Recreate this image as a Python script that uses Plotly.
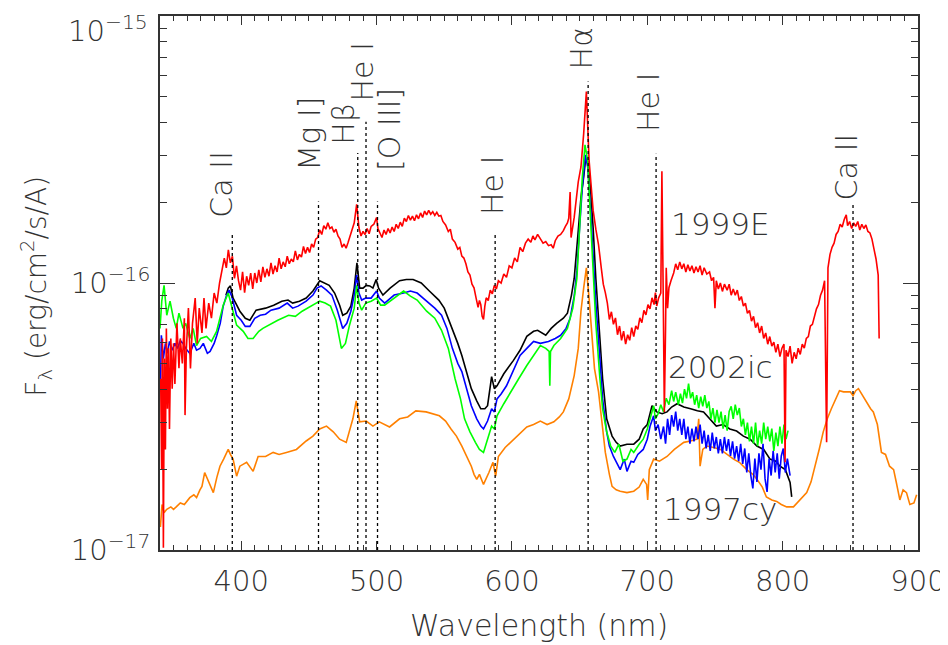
import math
import plotly.graph_objects as go

FLUX_UNIT = 1e-17  # all flux values below are in units of 1e-17 erg/cm2/s/A

# ---- SN 1999E (red): (wavelength nm, flux) pairs ----
spec_1999E = [
    (340.5, 4.38), (341.2, 2.00), (341.8, 6.2), (342.5, 1.02), (343.2, 5.21), (344, 2.38), (344.7, 6.76),
    (345.5, 3.38), (346.3, 5.69), (347, 2.84), (348, 6.2), (349, 4.02), (350, 5.94), (351, 4.19), (352.5, 7.06),
    (354, 4.80), (355, 6.2), (356.5, 5.0), (358, 7.38), (358.5, 3.2), (359.5, 5.69), (361, 8.05), (362.5, 4.78),
    (364, 7.06), (366, 8.78), (367.5, 5.94), (369, 8.05), (371, 6.5), (372.5, 8.78), (374, 6.76), (376, 8.41),
    (378, 7.38), (380, 9.17), (382, 8.41), (384, 10.0), (386, 11.4), (387.5, 12.4), (389, 11.4), (390.5, 13.3),
    (392, 11.9), (393.5, 12.6),
    (395, 10.4), (396.5, 11.6), (398, 10.2), (399.5, 9.4), (401, 11.0), (402.5, 9.2), (404, 10.6), (405.5, 9.8),
    (407, 10.9), (408.5, 9.5), (410, 10.9), (411.5, 10.0), (413, 11.2), (414.5, 10.1), (416, 11.5), (417.5, 10.5),
    (419, 11.3), (420.5, 10.6), (422, 11.9), (423.5, 10.8), (425, 11.6), (426.5, 11.0), (428, 12.4), (429.5, 11.3),
    (431, 12.0), (432.5, 11.5), (434, 12.6), (435.5, 11.8), (437, 12.3), (438.5, 12.0), (440, 13.2), (441.5, 12.2),
    (443, 12.8), (444.5, 12.5), (446, 13.7), (447.5, 12.9), (449, 13.6), (450.5, 13.0), (452, 14.0), (453.5, 13.6),
    (455, 14.6), (456.5, 14.8), (458, 15.8), (459.5, 15.2), (461, 16.4), (462.5, 15.9), (464, 16.8), (465.5, 16.0),
    (467, 16.2), (468.5, 15.5), (470, 15.9), (471.5, 15.0), (473, 14.6), (474.5, 13.6), (476, 14.0), (477.5, 13.5),
    (479, 14.2), (481, 15.2), (483.5, 16.8), (485.3, 19.7), (487, 16.1), (488.5, 15.0), (490, 15.6), (491.5, 15.2),
    (493, 16.0), (494.5, 15.3), (496, 16.3), (498, 16.6), (500, 17.6), (501, 16.0), (502.5, 15.4), (504, 14.8),
    (505.5, 15.8), (507, 15.2), (508.5, 16.0), (510, 15.4), (511.5, 16.2), (513, 15.6), (514.5, 16.6), (516, 16.0),
    (517.5, 16.9), (519, 16.3), (520.5, 17.5), (522, 17.0), (523.5, 17.9), (525, 17.2), (526.5, 17.8), (528, 17.1),
    (529.5, 18.0), (531, 17.4), (532.5, 18.3), (534, 17.6), (535.5, 18.6), (537, 18.0), (538.5, 18.7), (540, 18.1),
    (541.5, 18.5), (543, 17.9), (544.5, 18.4), (546, 17.8), (547.5, 17.9), (549, 17.0), (551, 16.5), (553, 15.6),
    (554.5, 15.9), (556, 14.6), (558, 14.2), (560, 13.4), (561.5, 13.6), (563, 12.6), (564.5, 12.4), (566, 11.8),
    (567.5, 11.0), (569, 10.7), (570.5, 9.9), (572, 9.6), (573.5, 8.8), (575, 8.1), (576, 8.6), (577, 8.3),
    (578, 7.5), (579, 7.3), (580, 8.2), (581, 8.8), (582.5, 8.6), (584, 9.4), (585.5, 9.1), (587, 9.8), (588.5, 9.5),
    (590, 10.2), (592, 10.0), (594, 10.8), (596, 10.5), (598, 11.6), (600, 11.4), (602, 12.4), (604, 12.0),
    (606, 13.6), (608, 13.1), (610, 14.1), (612, 14.6), (614, 14.2), (615.5, 15.0), (617, 14.5), (619, 15.2),
    (621, 14.6), (623, 14.1), (625, 14.3), (627, 13.8), (629, 13.9), (630.5, 13.5), (632, 14.4), (634, 15.0),
    (636, 15.2), (638, 15.7), (639.5, 16.3), (641, 16.8), (642, 17.5), (643, 21.9), (643.7, 14.8), (646, 17.6),
    (649, 23.9), (651, 27.2), (653, 36.2), (655, 52.1), (657, 28.9), (660, 18.7), (662, 15.9), (664, 13.9),
    (666, 11.4), (667.5, 9.9), (669, 9.2), (670.5, 8.4), (672, 7.3), (673.5, 7.8), (675, 7.0), (676.5, 7.4),
    (678, 6.4), (679.5, 6.9), (681, 6.1), (682.5, 6.6), (684, 5.9), (685.5, 6.4), (687, 6.1), (688.5, 6.8),
    (690, 6.3), (691.5, 6.9), (693, 6.7), (694.5, 7.4), (696, 7.1), (697.5, 7.9), (699, 7.6), (700.5, 8.3),
    (702, 8.0), (703.5, 8.8), (705, 8.3), (706, 9.2), (707, 8.2), (708.4, 8.8), (710, 9.17), (710.8, 26.2),
    (711.8, 8.78), (712.6, 3.29), (713.5, 6.76), (714, 11.4), (715, 8.05), (716, 9.6), (717.5, 10.2), (719.5, 10.9),
    (721, 11.8), (722.5, 11.2), (724, 12.0), (725.5, 11.3), (727, 11.8), (728.5, 11.0), (730, 11.7), (731.5, 11.1),
    (733, 11.6), (734.5, 10.9), (736, 11.5), (737.5, 11.0), (739, 11.6), (740.5, 10.7), (742, 11.4), (744, 10.8),
    (746, 11.0), (747.5, 10.2), (749, 10.5), (750, 8.05), (751, 10.2), (752.5, 9.5), (754, 10.0), (755.5, 9.3),
    (757, 9.9), (759, 9.4), (760.5, 9.9), (762, 9.0), (763.5, 9.5), (765, 9.0), (766.5, 9.4), (768, 8.6),
    (769.5, 8.9), (771, 8.2), (772.5, 8.4), (774, 7.7), (775.5, 7.9), (777, 7.2), (778.5, 7.5), (780, 6.8),
    (781.5, 7.1), (783, 6.5), (784.5, 6.9), (786, 6.2), (787.5, 6.5), (789, 5.9), (790.5, 6.3), (792, 5.8),
    (793.5, 6.0), (795, 5.5), (796.5, 5.9), (798, 5.3), (799.5, 5.7), (801, 5.9), (801.8, 2.13), (802.5, 5.6),
    (804, 5.3), (805.5, 5.8), (807, 5.0), (808.5, 5.5), (810, 5.2), (811.5, 5.7), (813, 5.4), (814.5, 5.9),
    (816, 5.7), (817.5, 6.2), (819, 6.3), (820.5, 6.9), (822, 7.0), (823.5, 7.6), (825, 8.0), (826.5, 8.3),
    (828, 9.0), (829.5, 9.4), (831, 10.2), (832.5, 2.53), (833.5, 11.4), (835, 12.8), (836.5, 13.6), (838, 14.1),
    (839.5, 15.2), (841, 15.6), (842.5, 16.6), (844, 16.2), (845.5, 17.3), (847, 18.0), (848, 16.4), (849.5, 17.0),
    (851, 16.0), (852.5, 16.8), (854, 16.3), (855.5, 17.0), (857, 15.8), (858.5, 16.6), (860, 16.0), (861.5, 16.5),
    (863, 15.6), (864.5, 15.4), (866, 14.6), (867.5, 13.4), (869, 12.3), (870.6, 10.7), (871.3, 6.2)]
wl_1999E = [p[0] for p in spec_1999E]
fx_1999E = [p[1] for p in spec_1999E]

# ---- SN 2002ic (black) ----
wl_2002ic_k = [388.7, 390.4, 392, 394, 399, 403, 406.4, 411, 418, 424, 430, 434.6, 438, 443, 448, 453, 458, 462, 465,
               469, 472.7, 475, 478, 481, 483.5, 485.5, 487.5, 490, 492.4, 495, 497.3, 499.7, 501.5, 504.7, 510, 517,
               522, 527, 533, 539, 546, 550, 555, 560, 563, 567, 570, 574, 577, 580, 582, 585, 587, 589, 594, 601, 606,
               611, 616, 619, 622, 625, 629, 633, 638, 641, 644, 646, 649, 651, 653, 654.5, 656, 658, 660, 662, 665,
               667, 670, 674, 677, 680, 685, 690, 694, 697, 700, 703.5, 707, 711, 714.6, 718, 722, 727, 732, 737,
               741.6, 746, 751, 756, 761, 766, 771, 776, 781, 786, 790.7, 795, 798, 802, 805.5, 806.7]
fx_2002ic_k = [9.0, 9.57, 9.75, 8.78, 7.84, 7.38, 7.25, 7.91, 8.05, 8.26, 8.55, 8.63, 8.41, 8.55, 8.78, 9.33, 10.2,
               10.0, 9.8, 9.17, 8.26, 7.57, 7.71, 8.19, 9.57, 11.9, 9.57, 9.57, 9.8, 9.75, 9.57, 10.3, 9.57, 9.01, 9.57,
               10.2, 10.3, 10.3, 10.0, 9.33, 8.63, 8.05, 6.95, 5.94, 5.35, 4.57, 4.02, 3.62, 3.38, 3.38, 3.47, 4.46,
               4.02, 4.12, 4.57, 5.12, 5.6, 6.31, 6.59, 6.65, 6.5, 6.37, 6.76, 7.06, 7.38, 7.71, 9.01, 10.4, 15.7,
               20.9, 24.9, 29.3, 28.6, 22.8, 16.1, 10.4, 6.2, 4.38, 3.10, 2.67, 2.53, 2.45, 2.49, 2.49, 2.60, 2.84,
               2.95, 3.47, 3.29, 3.24, 3.29, 3.43, 3.53, 3.43, 3.38, 3.32, 3.29, 3.10, 2.91, 2.95, 2.84, 2.79, 2.67,
               2.60, 2.45, 2.38, 2.19, 2.15, 2.06, 2.00, 1.79, 1.58]

# ---- SN 2002ic (blue): (wavelength nm, flux) pairs ----
spec_2002ic_b = [
    (340.3, 3.91), (341, 6.37), (342.5, 5.21), (344, 5.94), (345.5, 5.45), (347, 6.04), (349, 5.6), (351, 5.94),
    (353, 5.69), (355, 6.09), (357, 5.94), (359, 5.69), (362, 5.45), (365, 5.94), (367, 5.6), (369.5, 5.69),
    (372, 5.94), (375, 5.45), (377, 5.54), (380, 5.94), (382, 6.37), (384.5, 7.06), (386.7, 8.19), (389, 8.93),
    (391, 9.41), (393, 8.93), (396.6, 7.57), (400, 7.25), (403, 6.88), (406.4, 6.88), (410, 7.38), (414, 7.57),
    (418, 7.64), (422, 7.91), (428, 8.05), (434, 8.41), (438, 8.05), (442, 8.19), (448, 8.55), (453, 9.01),
    (456, 9.57), (459, 9.75), (463, 9.41), (467, 9.01), (471, 7.91), (475, 6.76), (478, 7.06), (481, 7.84),
    (483.5, 9.01), (485.3, 10.7), (487, 9.17), (489, 8.63), (492, 8.78), (496, 8.78), (500, 9.33), (502, 8.78),
    (506, 8.41), (513, 9.01), (520, 9.17), (525, 9.33), (530, 9.17), (537, 8.55), (543, 8.05), (548, 7.57),
    (552, 6.76), (556, 5.69), (560, 5.0), (563, 4.66), (567, 3.95), (570, 3.47), (574, 3.10), (577, 2.91),
    (579, 2.84), (582, 3.04), (585, 3.38), (587, 3.29), (589, 3.68), (592, 3.84), (596, 4.12), (601, 4.7),
    (606, 5.35), (611, 5.69), (616, 6.04), (621, 5.94), (627, 6.04), (632, 6.2), (636, 6.37), (640, 6.76),
    (643, 7.38), (646, 8.93), (648, 11.1), (650, 16.1), (652, 22.8), (654.3, 30.2), (656, 27.2), (658, 19.2),
    (660, 12.1), (662, 8.41), (665, 5.21), (667, 3.68), (670, 2.77), (672, 2.45), (675, 2.24), (678, 2.09),
    (680, 2.00), (683, 2.19), (685, 1.97), (688, 2.15), (690, 2.13), (693, 2.28), (697, 2.38),
    (700, 2.60), (702, 2.9), (704.7, 3.18), (706, 2.8), (708, 2.95), (710, 2.6), (712, 2.9), (713.5, 2.5),
    (715, 3.1), (716.5, 2.7), (718, 3.2), (719.5, 2.9), (721, 3.3), (722.5, 2.8), (724, 3.1), (725.5, 2.7),
    (727, 3.1), (728.5, 2.6), (730, 2.9), (731.5, 2.5), (733, 2.85), (734.5, 2.55), (736, 2.9), (737.5, 2.6),
    (739, 2.95), (740.5, 2.5), (742, 2.8), (743.5, 2.4), (745, 2.7), (746.5, 2.35), (748, 2.75), (749.5, 2.4),
    (751, 2.65), (752.5, 2.3), (754, 2.6), (755.5, 2.3), (757, 2.65), (758.5, 2.35), (760, 2.6), (761.5, 2.25),
    (763, 2.55), (764.5, 2.2), (766, 2.45), (767.5, 2.15), (769, 2.5), (770.5, 2.1), (772, 2.4), (773.5, 1.95),
    (775, 2.3), (776.5, 1.9), (778, 1.7), (779.5, 2.2), (781, 1.8), (782.5, 2.3), (784, 2.0), (785.5, 2.5),
    (787, 1.85), (788.5, 1.65), (790, 2.2), (791.5, 1.9), (793, 2.35), (794.5, 1.95), (796, 2.3), (797.5, 1.85),
    (799, 2.25), (800.5, 2.4), (802, 1.95), (803.5, 2.2), (805.5, 1.9)]
wl_2002ic_b = [p[0] for p in spec_2002ic_b]
fx_2002ic_b = [p[1] for p in spec_2002ic_b]

# ---- SN 2002ic (green): (wavelength nm, flux) pairs ----
spec_2002ic_g = [
    (340, 6.76), (341.3, 8.55), (343, 9.8), (345, 7.57), (347.4, 8.55), (349.9, 7.38), (352, 6.76), (354, 7.71),
    (357, 6.76), (359, 7.06), (362, 6.2), (364.5, 6.76), (367, 5.83), (370, 6.2), (374.4, 6.31), (378, 6.04),
    (381.8, 6.59), (384, 7.25), (386.7, 8.26), (390.4, 9.17), (394, 7.84), (396.6, 6.95), (401.5, 6.59), (405, 6.2),
    (408.8, 6.2), (413, 6.59), (416, 6.76), (420, 6.95), (427, 7.25), (435, 7.57), (440, 7.5), (445, 7.84),
    (452, 8.19), (458, 8.55), (462, 8.41), (466, 8.19), (470, 7.25), (474, 5.69), (477, 5.94), (480, 6.95),
    (483.5, 8.05), (485.3, 9.8), (487, 8.41), (489, 7.91), (492, 8.41), (496, 8.55), (500, 8.78), (503, 8.26),
    (506, 8.26), (513, 8.78), (520, 9.33), (525, 8.93), (530, 8.63), (537, 7.84), (543, 7.38), (548, 6.65),
    (553, 5.69), (558, 4.38), (562, 3.68), (565, 3.10), (569, 2.77), (573, 2.53), (576, 2.38), (579, 2.32),
    (582, 2.60), (585, 2.91), (587, 2.84), (589, 3.18), (594, 3.53), (599, 3.91), (605, 4.38), (611, 4.91),
    (616, 5.35), (621, 5.83), (625, 5.69), (627.5, 5.54), (628, 4.12), (628.5, 5.54), (631, 5.83), (636, 6.2),
    (641, 6.76), (645, 8.05), (648, 10.4), (650, 16.1), (652, 24.9), (654, 32.9), (656, 28.6), (658, 17.6),
    (660, 10.4), (662, 7.06), (665, 4.38), (667, 3.38), (670, 2.77), (673, 2.45), (676, 2.32), (679, 2.49),
    (682, 2.15), (685, 2.19), (688, 2.38), (690, 2.32), (694, 2.49), (697, 2.60),
    (700, 2.84), (702, 3.1), (704.7, 3.47), (706, 3.1), (708, 3.24), (710, 3.5), (712, 3.29), (714, 3.7),
    (716, 3.5), (718, 3.95), (719.5, 3.6), (721, 3.9), (723, 3.5), (724.5, 3.85), (726, 3.55), (727.5, 4.0),
    (729, 3.7), (730.5, 4.2), (732, 3.7), (733.5, 3.9), (735, 3.5), (736.5, 3.8), (738, 3.4), (739.5, 3.75),
    (741, 3.45), (742.5, 3.8), (744, 3.4), (745.5, 3.6), (747, 3.1), (748.5, 3.4), (750, 3.0), (751.5, 3.35),
    (753, 3.0), (754.5, 3.3), (756, 2.85), (757.5, 3.2), (759, 2.8), (760.5, 3.3), (762, 3.45), (763.5, 3.1),
    (765, 3.5), (766.5, 3.2), (768, 3.4), (769.5, 2.9), (771, 3.1), (772.5, 2.7), (774, 3.0), (775.5, 2.55),
    (777, 2.9), (778.5, 2.5), (780, 3.0), (781.5, 2.45), (783, 2.8), (784.5, 2.5), (786, 3.0), (787.5, 2.6),
    (789, 2.9), (790.5, 2.55), (792, 2.85), (793.5, 2.35), (795, 2.75), (796.5, 2.45), (798, 2.9), (799.5, 2.5),
    (801, 2.95), (802.5, 2.6), (804, 2.8)]
wl_2002ic_g = [p[0] for p in spec_2002ic_g]
fx_2002ic_g = [p[1] for p in spec_2002ic_g]

# ---- SN 1997cy (orange) ----
wl_1997cy = [340.3, 341.5, 343, 345, 348, 350, 352, 355, 358, 362, 365, 367, 369.5, 371, 373, 375, 377, 379.4, 382,
             384.3, 387, 390.4, 392, 394, 396.6, 399, 404, 408.8, 412.5, 418, 423.6, 428, 433.4, 440.8, 448, 453, 458,
             463, 468, 472.7, 477.6, 482.5, 485, 487.5, 492.4, 497.3, 502, 509.6, 517, 523, 529, 536.6, 546.4, 551,
             555, 559, 563, 566, 570, 572, 574, 576, 579, 583, 586, 588, 590, 595, 599, 605, 611, 616, 621, 626, 631,
             635, 638, 642, 646, 649, 651, 653, 655, 657, 659, 661, 664, 667, 669, 672, 674, 677, 680, 685, 690, 694,
             697, 699.5, 700.3, 701.5, 704.7, 709, 714.6, 720, 727, 732, 736.7, 738, 739, 741, 744, 749, 754, 759,
             763.7, 768, 773.5, 778, 781, 785, 788, 792, 795.6, 799, 803, 808, 813, 817.8, 821, 824, 827, 830, 833,
             836, 839, 842, 845, 847, 850, 852, 854, 856, 859, 862, 865, 867, 870, 873, 876, 879, 882, 884, 886.6,
             889, 891.5, 894, 897, 899]
fx_1997cy = [1.22, 1.48, 1.38, 1.42, 1.45, 1.42, 1.45, 1.50, 1.48, 1.57, 1.61, 1.57, 1.68, 1.73, 1.95, 1.84, 1.73,
             1.64, 1.87, 2.06, 2.19, 2.38, 2.28, 2.19, 1.89, 2.06, 2.13, 1.97, 2.24, 2.24, 2.32, 2.28, 2.32, 2.38,
             2.56, 2.67, 2.84, 2.91, 2.77, 2.60, 2.53, 3.10, 3.62, 3.02, 3.04, 2.91, 3.02, 2.89, 3.10, 3.15, 3.32,
             3.29, 3.18, 3.04, 2.84, 2.67, 2.45, 2.28, 2.06, 1.92, 1.84, 1.92, 1.76, 1.95, 2.13, 1.89, 2.24, 2.42,
             2.53, 2.72, 2.89, 2.95, 3.04, 2.95, 3.02, 3.15, 3.29, 3.68, 4.50, 5.69, 7.84, 9.57, 11.4, 8.78, 6.20,
             4.78, 3.91, 2.95, 2.32, 1.92, 1.73, 1.68, 1.66, 1.64, 1.66, 1.72, 1.84, 1.76, 1.54, 2.00, 2.19, 2.15,
             2.24, 2.38, 2.53, 2.56, 2.60, 3.10, 2.06, 2.38, 2.45, 2.42, 2.38, 2.28, 2.19, 2.13, 2.00, 1.92, 1.84,
             1.72, 1.58, 1.54, 1.52, 1.48, 1.45, 1.45, 1.54, 1.64, 1.80, 2.06, 2.38, 2.77, 3.10, 3.38, 3.68, 3.95,
             3.91, 3.91, 3.91, 3.78, 3.95, 4.02, 3.78, 3.59, 3.38, 3.29, 2.95, 2.32, 2.28, 2.06, 2.00, 1.79, 1.54,
             1.68, 1.64, 1.48, 1.50, 1.61]

# ---- line identifications ----
line_names = ["Ca II", "Mg I]", "H&#946;", "He I", "[O III]", "He I", "H&#945;", "He I", "Ca II"]
line_wl = [393.4, 457.1, 486.1, 492.2, 500.7, 587.6, 656.3, 706.5, 852.0]
line_top = [15.2, 20.2, 30.7, 40.2, 20.2, 15.2, 56.9, 30.5, 20.0]          # top of dotted marker (1e-17 units)
label_wl = [385.7, 450.5, 474.9, 489.6, 509.5, 586.1, 651.0, 701.0, 847.0]  # label centre
label_base = [17.3, 25.8, 32.3, 47.0, 25.8, 17.6, 62.0, 36.2, 20.0]       # label lower end (1e-17 units)

sn_names = ["1999E", "2002ic", "1997cy"]
sn_label_wl = [754, 754, 754]
sn_label_fx = [16.6, 4.86, 1.42]

ytick_vals = [1e-17, 1e-16, 1e-15]
ytick_text = ["10<sup>&#8722;17</sup>", "10<sup>&#8722;16</sup>", ""]
ytop_text = "10<sup>&#8722;15</sup>"

FONT = "DejaVu Sans"
TXT = "#333333"

fig = go.Figure()

def add_spec(wl, fx, color):
    fig.add_trace(go.Scatter(x=wl, y=[v * FLUX_UNIT for v in fx], mode="lines",
                             line=dict(color=color, width=1.6), showlegend=False, hoverinfo="skip"))

add_spec(wl_1997cy, fx_1997cy, "#ff8000")
add_spec(wl_2002ic_k, fx_2002ic_k, "#000000")
add_spec(wl_2002ic_b, fx_2002ic_b, "#0000ff")
add_spec(wl_2002ic_g, fx_2002ic_g, "#00ff00")
add_spec(wl_1999E, fx_1999E, "#ff0000")

for w, t in zip(line_wl, line_top):
    fig.add_trace(go.Scatter(x=[w, w], y=[1.0 * FLUX_UNIT, t * FLUX_UNIT], mode="lines",
                             line=dict(color="black", width=1.3, dash="dot"),
                             showlegend=False, hoverinfo="skip"))

def tfont(size):
    return dict(family=FONT, size=size, color=TXT, weight=200)

annotations = []
for name, w, b in zip(line_names, label_wl, label_base):
    annotations.append(dict(x=w, y=math.log10(b * FLUX_UNIT), xref="x", yref="y", text=name,
                            textangle=-90, showarrow=False, xanchor="center", yanchor="bottom",
                            font=tfont(30)))
for name, w, f in zip(sn_names, sn_label_wl, sn_label_fx):
    annotations.append(dict(x=w, y=math.log10(f * FLUX_UNIT), xref="x", yref="y", text=name,
                            showarrow=False, xanchor="center", yanchor="middle", font=tfont(31)))
annotations.append(dict(x=-0.163, y=0.494, xref="paper", yref="paper", textangle=-90,
                        text="F<sub>&#955;</sub> (erg/cm<sup>2</sup>/s/A)", showarrow=False,
                        xanchor="center", yanchor="middle", font=tfont(28)))
annotations.append(dict(x=0.5, y=-0.142, xref="paper", yref="paper", text="Wavelength (nm)",
                        showarrow=False, xanchor="center", yanchor="middle", font=tfont(30)))
annotations.append(dict(x=-0.013, y=0.975, xref="paper", yref="paper", text=ytop_text,
                        showarrow=False, xanchor="right", yanchor="middle", font=tfont(29)))

yminor = [m * 10 ** e for e in (-17, -16) for m in range(2, 10)]

# the page adds an 8px body margin, so the figure is sized/margined to land the axes box at 160..918 x 16..550
fig.update_layout(
    width=940, height=637,
    margin=dict(l=152, r=30, t=8, b=95, autoexpand=False),
    paper_bgcolor="white", plot_bgcolor="white",
    annotations=annotations,
    xaxis=dict(range=[340, 900.01], dtick=100, tick0=0, ticks="inside", ticklen=9, tickwidth=1.2,
               tickcolor="#333", showline=True, linecolor="#333", linewidth=1.5, mirror="allticks",
               showgrid=False, zeroline=False, ticklabelstandoff=4, automargin=False,
               ticklabeloverflow="allow", tickfont=tfont(29),
               minor=dict(dtick=10, ticks="inside", ticklen=5, tickcolor="#333", tickwidth=1, showgrid=False)),
    yaxis=dict(type="log", range=[-17.0001, -14.9999], tickvals=ytick_vals, ticktext=ytick_text,
               ticks="inside", ticklen=15, tickwidth=1.2, tickcolor="#333",
               showline=True, linecolor="#333", linewidth=1.5, mirror="allticks",
               showgrid=False, zeroline=False, ticklabelstandoff=2, automargin=False,
               ticklabeloverflow="allow", tickfont=tfont(29),
               minor=dict(tickvals=yminor, ticks="inside", ticklen=7, tickcolor="#333", tickwidth=1,
                          showgrid=False)),
)

fig.write_html("out.html")
